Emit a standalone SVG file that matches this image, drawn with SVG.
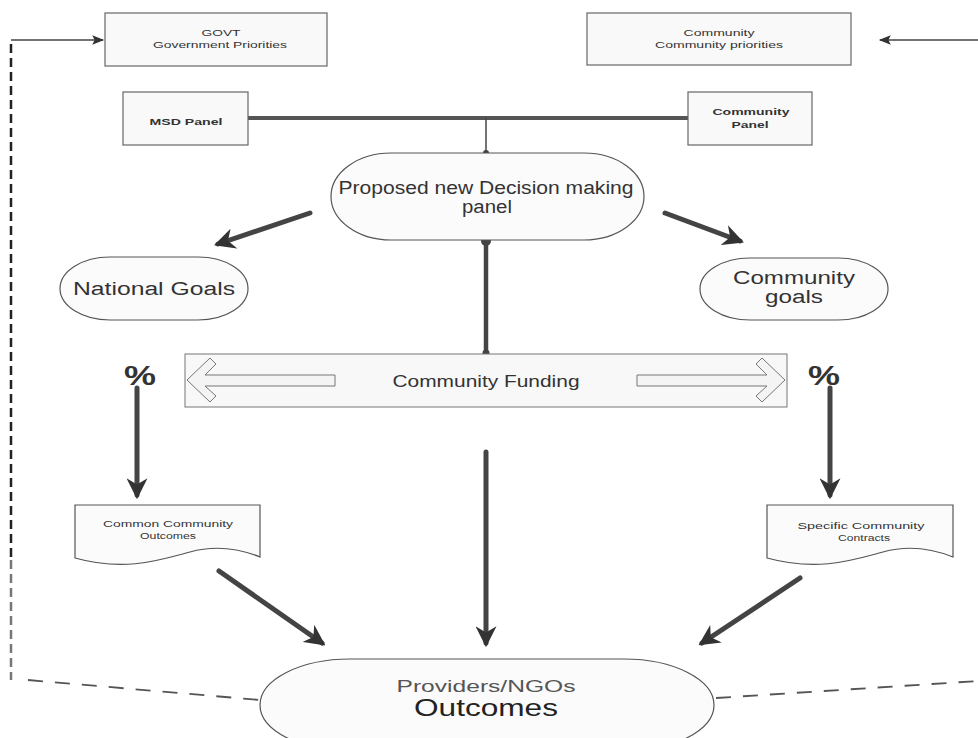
<svg xmlns="http://www.w3.org/2000/svg" width="978" height="738" viewBox="0 0 978 738">
<style>
text{font-family:"Liberation Sans",Arial,sans-serif;fill:#333;text-anchor:middle}
.box{fill:#f9f9f9;stroke:#666;stroke-width:1.2}
.shape{fill:#fbfbfb;stroke:#555;stroke-width:1.2}
.thick{stroke:#444;stroke-width:5;fill:none;stroke-linecap:round}
.thin{stroke:#444;stroke-width:1.5;fill:none}
.vdash{stroke:#222;stroke-width:2.5;fill:none;stroke-dasharray:9 5}
.hdash{stroke:#555;stroke-width:1.8;fill:none;stroke-dasharray:15 12}
.hollow{fill:#f4f4f4;stroke:#777;stroke-width:1}
.s{font-size:9.5px}
.sb{font-size:9.5px;font-weight:bold}
.xs{font-size:8.5px}
.m{font-size:18px}
.pct{font-size:27px;font-weight:bold}
</style>
<defs>
<marker id="big" viewBox="0 0 10 10" refX="8" refY="5" markerWidth="4.2" markerHeight="4.2" orient="auto" markerUnits="strokeWidth">
<path d="M0,0 L10,5 L0,10 L3,5 Z" fill="#333"/>
</marker>
<marker id="small" viewBox="0 0 10 10" refX="9" refY="5" markerWidth="10" markerHeight="8" orient="auto" markerUnits="strokeWidth">
<path d="M0,1 L10,5 L0,9 L2,5 Z" fill="#333"/>
</marker>
</defs>
<g id="connectors">
<path class="vdash" d="M11,44 L11,560"/>
<path d="M11,560 L11,680" stroke="#777" stroke-width="2.5" stroke-dasharray="9 5" fill="none"/>
<path class="thin" d="M11,40 L103,40" marker-end="url(#small)"/>
<path class="thin" d="M978,40 L880,40" marker-end="url(#small)"/>
<path d="M248,118 L688,118" stroke="#555" stroke-width="4"/>
<path class="thin" d="M486,118 L486,153"/>
<circle cx="486" cy="153" r="3" fill="#444"/>
<circle cx="486" cy="241" r="5" fill="#444"/>
<path d="M486,241 L486,353" stroke="#444" stroke-width="4.5"/>
<circle cx="486" cy="353" r="3.5" fill="#444"/>
<path class="thick" d="M310,213 L218,244" marker-end="url(#big)"/>
<path class="thick" d="M665,213 L740,241" marker-end="url(#big)"/>
<path class="thick" d="M137,388 L137,495" marker-end="url(#big)"/>
<path class="thick" d="M830,388 L830,495" marker-end="url(#big)"/>
<path class="thick" d="M219,571 L322,643" marker-end="url(#big)"/>
<path class="thick" d="M486,452 L486,643" marker-end="url(#big)"/>
<path class="thick" d="M800,578 L702,643" marker-end="url(#big)"/>
<path class="hdash" d="M28,680 L260,700"/>
<path class="hdash" d="M716,698 L978,681"/>
</g>
<g id="govt">
<rect class="box" x="105" y="13" width="222" height="53"/>
<text class="s" x="221" y="36" textLength="39" lengthAdjust="spacingAndGlyphs">GOVT</text>
<text class="s" x="220" y="48" textLength="134" lengthAdjust="spacingAndGlyphs">Government Priorities</text>
</g>
<g id="community">
<rect class="box" x="587" y="13" width="264" height="52"/>
<text class="s" x="719" y="36" textLength="71" lengthAdjust="spacingAndGlyphs">Community</text>
<text class="s" x="719" y="48" textLength="128" lengthAdjust="spacingAndGlyphs">Community priorities</text>
</g>
<g id="msd-panel">
<rect class="box" x="123" y="92" width="125" height="53"/>
<text class="sb" x="186" y="125" textLength="73" lengthAdjust="spacingAndGlyphs">MSD Panel</text>
</g>
<g id="community-panel">
<rect class="box" x="688" y="92" width="124" height="53"/>
<text class="sb" x="751" y="115" textLength="77" lengthAdjust="spacingAndGlyphs">Community</text>
<text class="sb" x="750" y="128" textLength="37" lengthAdjust="spacingAndGlyphs">Panel</text>
</g>
<g id="decision-panel">
<rect class="shape" x="331" y="153" width="313" height="87" rx="60" ry="43.5"/>
<text class="m" x="486" y="194" textLength="295" lengthAdjust="spacingAndGlyphs">Proposed new Decision making</text>
<text class="m" x="487" y="213" textLength="50" lengthAdjust="spacingAndGlyphs">panel</text>
</g>
<g id="national-goals">
<rect class="shape" x="60" y="257" width="188" height="63" rx="50" ry="31.5"/>
<text class="m" x="154" y="295" textLength="162" lengthAdjust="spacingAndGlyphs">National Goals</text>
</g>
<g id="community-goals">
<rect class="shape" x="700" y="258" width="188" height="62" rx="50" ry="31"/>
<text class="m" x="794" y="284" textLength="122" lengthAdjust="spacingAndGlyphs">Community</text>
<text class="m" x="794" y="303" textLength="58" lengthAdjust="spacingAndGlyphs">goals</text>
</g>
<g id="community-funding">
<rect x="185" y="354" width="602" height="53" fill="#f8f8f8" stroke="#777" stroke-width="1"/>
<path class="hollow" d="M335,375 L205,375 L216,364 L210,358 L187,380 L210,402 L216,396 L205,386 L335,386 Z"/>
<path class="hollow" d="M637,375 L767,375 L756,364 L762,358 L785,380 L762,402 L756,396 L767,386 L637,386 Z"/>
<text x="486" y="387" style="font-size:16px" textLength="187" lengthAdjust="spacingAndGlyphs">Community Funding</text>
</g>
<g id="pct-left"><text class="pct" x="140" y="385" textLength="32" lengthAdjust="spacingAndGlyphs">%</text></g>
<g id="pct-right"><text class="pct" x="824" y="385" textLength="32" lengthAdjust="spacingAndGlyphs">%</text></g>
<g id="common-outcomes">
<path class="shape" d="M75,505 L260,505 L260,557 C240,549 215,545 190,552 C160,560 125,572 75,558 Z"/>
<text class="xs" x="168" y="527" textLength="130" lengthAdjust="spacingAndGlyphs">Common Community</text>
<text class="xs" x="168" y="539" textLength="56" lengthAdjust="spacingAndGlyphs">Outcomes</text>
</g>
<g id="specific-contracts">
<path class="shape" d="M767,505 L953,505 L953,557 C933,549 908,545 883,552 C853,560 818,572 767,558 Z"/>
<text class="xs" x="861" y="529" textLength="127" lengthAdjust="spacingAndGlyphs">Specific Community</text>
<text class="xs" x="864" y="541" textLength="52" lengthAdjust="spacingAndGlyphs">Contracts</text>
</g>
<g id="providers">
<rect class="shape" x="260" y="659" width="454" height="92" rx="90" ry="46"/>
<text x="486" y="692" style="font-size:17px;fill:#555" textLength="179" lengthAdjust="spacingAndGlyphs">Providers/NGOs</text>
<text x="486" y="716" style="font-size:24px;fill:#222" textLength="144" lengthAdjust="spacingAndGlyphs">Outcomes</text>
</g>
</svg>
